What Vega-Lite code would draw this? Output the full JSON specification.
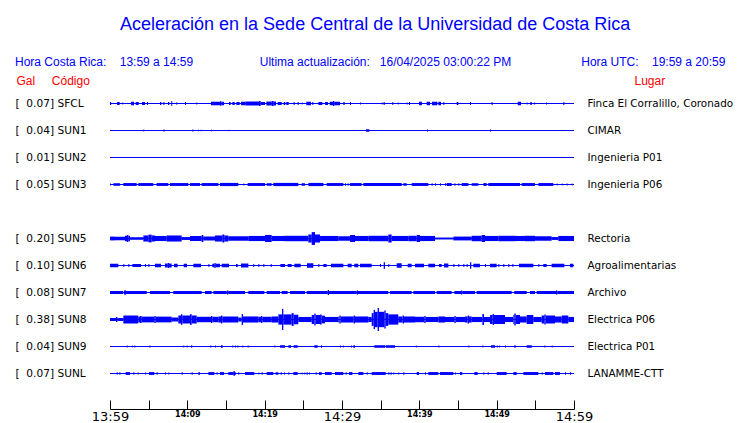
{
"$schema":"https://vega.github.io/schema/vega-lite/v6.json",
"width":464,"height":297,
"autosize":{"type":"none"},
"padding":{"left":110,"top":90,"right":166,"bottom":36},
"background":"white",
"config":{"view":{"stroke":null}},
"title":{"text":"\u200b\u00a0\u00a0\u00a0\u00a0\u00a0\u00a0\u00a0\u00a0\u00a0\u00a0\u00a0\u00a0\u00a0\u00a0\u00a0\u00a0\u00a0\u00a0\u00a0\u00a0\u00a0Aceleración en la Sede Central de la Universidad de Costa Rica",
"subtitle":"Hora Costa Rica:\u00a0\u00a0\u00a0\u00a013:59 a 14:59\u00a0\u00a0\u00a0\u00a0\u00a0\u00a0\u00a0\u00a0\u00a0\u00a0\u00a0\u00a0\u00a0\u00a0\u00a0\u00a0\u00a0\u00a0\u00a0\u00a0Ultima actualización:\u00a0\u00a0\u00a016/04/2025 03:00:22 PM\u00a0\u00a0\u00a0\u00a0\u00a0\u00a0\u00a0\u00a0\u00a0\u00a0\u00a0\u00a0\u00a0\u00a0\u00a0\u00a0\u00a0\u00a0\u00a0\u00a0\u00a0Hora UTC:\u00a0\u00a0\u00a0\u00a019:59 a 20:59",
"anchor":"start","frame":"group","dx":-95,"offset":6,"font":"Liberation Sans","fontSize":18,"fontWeight":"normal","color":"#0000ff",
"subtitleFont":"Liberation Sans","subtitleFontSize":12,"subtitleColor":"#0000ff","subtitlePadding":23},
"datasets":{
"stations":[{"s":"SFCL"},{"s":"SUN1"},{"s":"SUN2"},{"s":"SUN3"},{"s":"SUN5"},{"s":"SUN6"},{"s":"SUN7"},{"s":"SUN8"},{"s":"SUN9"},{"s":"SUNL"}],
"seg":[
{"s":"SFCL","t0":0,"t1":0.15,"a":0.045},{"s":"SFCL","t0":0.91,"t1":1.25,"a":0.047},{"s":"SFCL","t0":1.59,"t1":1.72,"a":0.031},{"s":"SFCL","t0":2.72,"t1":3.1,"a":0.055},{"s":"SFCL","t0":3.32,"t1":3.71,"a":0.047},{"s":"SFCL","t0":4.14,"t1":4.53,"a":0.047},{"s":"SFCL","t0":4.78,"t1":4.91,"a":0.047},{"s":"SFCL","t0":6.47,"t1":6.64,"a":0.047},{"s":"SFCL","t0":6.9,"t1":7.03,"a":0.047},{"s":"SFCL","t0":7.5,"t1":7.67,"a":0.047},{"s":"SFCL","t0":7.93,"t1":8.05,"a":0.078},{"s":"SFCL","t0":8.53,"t1":8.71,"a":0.031},{"s":"SFCL","t0":9.7,"t1":9.83,"a":0.047},{"s":"SFCL","t0":11.16,"t1":11.29,"a":0.031},{"s":"SFCL","t0":13.06,"t1":13.58,"a":0.055},{"s":"SFCL","t0":13.58,"t1":14.22,"a":0.055},{"s":"SFCL","t0":14.22,"t1":14.4,"a":0.07},{"s":"SFCL","t0":14.4,"t1":14.74,"a":0.055},{"s":"SFCL","t0":15.39,"t1":15.6,"a":0.047},{"s":"SFCL","t0":15.82,"t1":16.12,"a":0.047},{"s":"SFCL","t0":16.34,"t1":16.77,"a":0.047},{"s":"SFCL","t0":16.94,"t1":17.5,"a":0.055},{"s":"SFCL","t0":17.5,"t1":19.27,"a":0.062},{"s":"SFCL","t0":19.27,"t1":19.48,"a":0.078},{"s":"SFCL","t0":19.48,"t1":20.04,"a":0.047},{"s":"SFCL","t0":20.22,"t1":20.91,"a":0.062},{"s":"SFCL","t0":20.91,"t1":21.16,"a":0.078},{"s":"SFCL","t0":21.16,"t1":21.47,"a":0.062},{"s":"SFCL","t0":21.68,"t1":22.2,"a":0.047},{"s":"SFCL","t0":22.46,"t1":22.67,"a":0.047},{"s":"SFCL","t0":22.8,"t1":23.1,"a":0.047},{"s":"SFCL","t0":23.75,"t1":23.88,"a":0.047},{"s":"SFCL","t0":24.27,"t1":24.4,"a":0.047},{"s":"SFCL","t0":24.78,"t1":24.91,"a":0.031},{"s":"SFCL","t0":25.39,"t1":25.99,"a":0.055},{"s":"SFCL","t0":26.16,"t1":26.29,"a":0.047},{"s":"SFCL","t0":26.94,"t1":27.46,"a":0.047},{"s":"SFCL","t0":27.8,"t1":28.19,"a":0.047},{"s":"SFCL","t0":28.41,"t1":28.84,"a":0.055},{"s":"SFCL","t0":28.84,"t1":29.01,"a":0.078},{"s":"SFCL","t0":29.01,"t1":29.74,"a":0.055},{"s":"SFCL","t0":30.17,"t1":30.34,"a":0.047},{"s":"SFCL","t0":31.03,"t1":31.16,"a":0.047},{"s":"SFCL","t0":32.33,"t1":32.46,"a":0.031},{"s":"SFCL","t0":35.13,"t1":35.26,"a":0.031},{"s":"SFCL","t0":35.39,"t1":35.52,"a":0.047},{"s":"SFCL","t0":36.51,"t1":36.64,"a":0.047},{"s":"SFCL","t0":37.2,"t1":37.33,"a":0.031},{"s":"SFCL","t0":38.36,"t1":38.49,"a":0.031},{"s":"SFCL","t0":38.66,"t1":38.79,"a":0.047},{"s":"SFCL","t0":39.96,"t1":40.34,"a":0.055},{"s":"SFCL","t0":40.95,"t1":41.38,"a":0.055},{"s":"SFCL","t0":41.64,"t1":42.33,"a":0.055},{"s":"SFCL","t0":42.46,"t1":42.8,"a":0.055},{"s":"SFCL","t0":43.1,"t1":43.23,"a":0.047},{"s":"SFCL","t0":44.83,"t1":45.04,"a":0.047},{"s":"SFCL","t0":46.55,"t1":46.68,"a":0.047},{"s":"SFCL","t0":49.35,"t1":49.48,"a":0.047},{"s":"SFCL","t0":52.72,"t1":53.15,"a":0.055},{"s":"SFCL","t0":53.88,"t1":54.01,"a":0.031},{"s":"SFCL","t0":54.35,"t1":54.53,"a":0.047},{"s":"SFCL","t0":54.83,"t1":54.96,"a":0.031},{"s":"SFCL","t0":56.38,"t1":56.51,"a":0.031},{"s":"SFCL","t0":58.62,"t1":58.75,"a":0.047},
{"s":"SUN1","t0":4.31,"t1":4.44,"a":0.03},{"s":"SUN1","t0":6.9,"t1":7.07,"a":0.035},{"s":"SUN1","t0":10.65,"t1":10.78,"a":0.03},{"s":"SUN1","t0":11.38,"t1":11.51,"a":0.025},{"s":"SUN1","t0":11.72,"t1":11.85,"a":0.025},{"s":"SUN1","t0":13.06,"t1":13.19,"a":0.025},{"s":"SUN1","t0":15.3,"t1":15.43,"a":0.025},{"s":"SUN1","t0":33.1,"t1":33.53,"a":0.04},{"s":"SUN1","t0":40.99,"t1":41.12,"a":0.03},{"s":"SUN1","t0":49.14,"t1":49.27,"a":0.03},
{"s":"SUN3","t0":0,"t1":0.13,"a":0.03},{"s":"SUN3","t0":0.43,"t1":1.29,"a":0.04},{"s":"SUN3","t0":1.72,"t1":3.45,"a":0.045},{"s":"SUN3","t0":3.66,"t1":5.6,"a":0.045},{"s":"SUN3","t0":6.03,"t1":7.54,"a":0.045},{"s":"SUN3","t0":7.76,"t1":10.13,"a":0.045},{"s":"SUN3","t0":10.34,"t1":11.64,"a":0.045},{"s":"SUN3","t0":11.85,"t1":14.01,"a":0.045},{"s":"SUN3","t0":14.22,"t1":16.59,"a":0.05},{"s":"SUN3","t0":17.24,"t1":17.37,"a":0.03},{"s":"SUN3","t0":17.8,"t1":20.04,"a":0.045},{"s":"SUN3","t0":20.26,"t1":20.91,"a":0.04},{"s":"SUN3","t0":21.12,"t1":24.35,"a":0.05},{"s":"SUN3","t0":24.78,"t1":25.22,"a":0.04},{"s":"SUN3","t0":25.65,"t1":27.59,"a":0.05},{"s":"SUN3","t0":28.02,"t1":30.17,"a":0.045},{"s":"SUN3","t0":30.39,"t1":30.52,"a":0.04},{"s":"SUN3","t0":30.73,"t1":30.86,"a":0.04},{"s":"SUN3","t0":31.03,"t1":32.54,"a":0.045},{"s":"SUN3","t0":32.76,"t1":37.72,"a":0.05},{"s":"SUN3","t0":37.93,"t1":38.36,"a":0.04},{"s":"SUN3","t0":39.01,"t1":41.16,"a":0.045},{"s":"SUN3","t0":41.59,"t1":41.72,"a":0.04},{"s":"SUN3","t0":42.03,"t1":42.16,"a":0.04},{"s":"SUN3","t0":42.67,"t1":42.8,"a":0.04},{"s":"SUN3","t0":43.32,"t1":43.45,"a":0.04},{"s":"SUN3","t0":43.53,"t1":44.18,"a":0.045},{"s":"SUN3","t0":44.53,"t1":44.66,"a":0.04},{"s":"SUN3","t0":45.04,"t1":45.17,"a":0.04},{"s":"SUN3","t0":45.47,"t1":46.34,"a":0.045},{"s":"SUN3","t0":46.77,"t1":47.63,"a":0.04},{"s":"SUN3","t0":48.28,"t1":48.71,"a":0.045},{"s":"SUN3","t0":48.92,"t1":53.02,"a":0.05},{"s":"SUN3","t0":53.23,"t1":54.96,"a":0.045},{"s":"SUN3","t0":55.39,"t1":57.33,"a":0.045},{"s":"SUN3","t0":57.76,"t1":57.89,"a":0.03},{"s":"SUN3","t0":58.41,"t1":58.54,"a":0.03},{"s":"SUN3","t0":59.05,"t1":59.18,"a":0.03},{"s":"SUN3","t0":59.7,"t1":59.83,"a":0.03},
{"s":"SUN5","t0":0,"t1":0.65,"a":0.06},{"s":"SUN5","t0":0.65,"t1":1.94,"a":0.055},{"s":"SUN5","t0":1.94,"t1":2.2,"a":0.085},{"s":"SUN5","t0":2.2,"t1":2.37,"a":0.11},{"s":"SUN5","t0":2.37,"t1":2.59,"a":0.085},{"s":"SUN5","t0":2.59,"t1":4.31,"a":0.04},{"s":"SUN5","t0":4.31,"t1":4.96,"a":0.095},{"s":"SUN5","t0":4.96,"t1":5.39,"a":0.12},{"s":"SUN5","t0":5.39,"t1":5.82,"a":0.095},{"s":"SUN5","t0":5.82,"t1":7.33,"a":0.08},{"s":"SUN5","t0":7.33,"t1":9.27,"a":0.095},{"s":"SUN5","t0":9.27,"t1":10.34,"a":0.045},{"s":"SUN5","t0":10.34,"t1":11.85,"a":0.08},{"s":"SUN5","t0":11.85,"t1":12.07,"a":0.11},{"s":"SUN5","t0":12.07,"t1":13.58,"a":0.06},{"s":"SUN5","t0":13.58,"t1":14.53,"a":0.095},{"s":"SUN5","t0":14.53,"t1":14.78,"a":0.125},{"s":"SUN5","t0":14.78,"t1":15.3,"a":0.095},{"s":"SUN5","t0":15.3,"t1":17.89,"a":0.07},{"s":"SUN5","t0":17.89,"t1":20.04,"a":0.08},{"s":"SUN5","t0":20.04,"t1":20.91,"a":0.11},{"s":"SUN5","t0":20.91,"t1":22.63,"a":0.08},{"s":"SUN5","t0":22.63,"t1":25.65,"a":0.085},{"s":"SUN5","t0":25.65,"t1":26.08,"a":0.125},{"s":"SUN5","t0":26.08,"t1":26.51,"a":0.2},{"s":"SUN5","t0":26.51,"t1":27.16,"a":0.125},{"s":"SUN5","t0":27.16,"t1":29.53,"a":0.08},{"s":"SUN5","t0":29.53,"t1":31.03,"a":0.07},{"s":"SUN5","t0":31.03,"t1":31.68,"a":0.11},{"s":"SUN5","t0":31.68,"t1":33.41,"a":0.08},{"s":"SUN5","t0":33.41,"t1":35.99,"a":0.085},{"s":"SUN5","t0":35.99,"t1":36.42,"a":0.125},{"s":"SUN5","t0":36.42,"t1":38.58,"a":0.08},{"s":"SUN5","t0":38.58,"t1":39.66,"a":0.085},{"s":"SUN5","t0":39.66,"t1":40.09,"a":0.11},{"s":"SUN5","t0":40.09,"t1":42.03,"a":0.08},{"s":"SUN5","t0":42.03,"t1":44.4,"a":0.03},{"s":"SUN5","t0":44.4,"t1":46.77,"a":0.06},{"s":"SUN5","t0":46.77,"t1":48.06,"a":0.085},{"s":"SUN5","t0":48.06,"t1":48.49,"a":0.11},{"s":"SUN5","t0":48.49,"t1":50.22,"a":0.08},{"s":"SUN5","t0":50.22,"t1":52.37,"a":0.085},{"s":"SUN5","t0":52.37,"t1":53.66,"a":0.08},{"s":"SUN5","t0":53.66,"t1":54.96,"a":0.085},{"s":"SUN5","t0":54.96,"t1":57.11,"a":0.07},{"s":"SUN5","t0":57.11,"t1":57.97,"a":0.045},{"s":"SUN5","t0":57.97,"t1":60,"a":0.08},
{"s":"SUN6","t0":0,"t1":1.08,"a":0.055},{"s":"SUN6","t0":1.72,"t1":1.85,"a":0.047},{"s":"SUN6","t0":2.37,"t1":2.5,"a":0.047},{"s":"SUN6","t0":2.89,"t1":4.01,"a":0.047},{"s":"SUN6","t0":4.53,"t1":4.66,"a":0.047},{"s":"SUN6","t0":4.96,"t1":5.09,"a":0.047},{"s":"SUN6","t0":5.82,"t1":6.59,"a":0.055},{"s":"SUN6","t0":7.11,"t1":7.46,"a":0.062},{"s":"SUN6","t0":7.46,"t1":7.63,"a":0.078},{"s":"SUN6","t0":7.63,"t1":7.97,"a":0.062},{"s":"SUN6","t0":8.28,"t1":8.75,"a":0.055},{"s":"SUN6","t0":9.53,"t1":9.96,"a":0.055},{"s":"SUN6","t0":10.78,"t1":11.77,"a":0.055},{"s":"SUN6","t0":12.72,"t1":12.85,"a":0.047},{"s":"SUN6","t0":13.23,"t1":13.49,"a":0.055},{"s":"SUN6","t0":13.49,"t1":13.66,"a":0.078},{"s":"SUN6","t0":13.66,"t1":14.22,"a":0.055},{"s":"SUN6","t0":14.44,"t1":15.39,"a":0.055},{"s":"SUN6","t0":16.29,"t1":16.51,"a":0.047},{"s":"SUN6","t0":16.94,"t1":17.89,"a":0.062},{"s":"SUN6","t0":18.53,"t1":18.66,"a":0.047},{"s":"SUN6","t0":19.18,"t1":19.31,"a":0.047},{"s":"SUN6","t0":19.83,"t1":19.96,"a":0.047},{"s":"SUN6","t0":20.78,"t1":20.91,"a":0.047},{"s":"SUN6","t0":22.03,"t1":22.63,"a":0.047},{"s":"SUN6","t0":22.97,"t1":23.49,"a":0.047},{"s":"SUN6","t0":23.84,"t1":24.66,"a":0.055},{"s":"SUN6","t0":25.47,"t1":26.29,"a":0.07},{"s":"SUN6","t0":26.94,"t1":27.07,"a":0.047},{"s":"SUN6","t0":27.59,"t1":28.02,"a":0.047},{"s":"SUN6","t0":28.58,"t1":30.17,"a":0.055},{"s":"SUN6","t0":30.73,"t1":31.25,"a":0.055},{"s":"SUN6","t0":31.59,"t1":32.11,"a":0.055},{"s":"SUN6","t0":32.33,"t1":33.84,"a":0.055},{"s":"SUN6","t0":34.91,"t1":35.04,"a":0.047},{"s":"SUN6","t0":35.39,"t1":35.56,"a":0.1},{"s":"SUN6","t0":35.99,"t1":36.12,"a":0.047},{"s":"SUN6","t0":37.07,"t1":37.72,"a":0.07},{"s":"SUN6","t0":38.49,"t1":39.01,"a":0.055},{"s":"SUN6","t0":39.44,"t1":40.6,"a":0.055},{"s":"SUN6","t0":41.16,"t1":42.03,"a":0.055},{"s":"SUN6","t0":42.54,"t1":42.89,"a":0.047},{"s":"SUN6","t0":43.19,"t1":43.75,"a":0.062},{"s":"SUN6","t0":44.4,"t1":44.53,"a":0.047},{"s":"SUN6","t0":45.04,"t1":45.17,"a":0.047},{"s":"SUN6","t0":45.69,"t1":45.82,"a":0.047},{"s":"SUN6","t0":46.12,"t1":46.25,"a":0.047},{"s":"SUN6","t0":46.55,"t1":46.72,"a":0.1},{"s":"SUN6","t0":46.98,"t1":47.84,"a":0.055},{"s":"SUN6","t0":48.49,"t1":48.62,"a":0.047},{"s":"SUN6","t0":49.14,"t1":50,"a":0.055},{"s":"SUN6","t0":50.22,"t1":50.35,"a":0.047},{"s":"SUN6","t0":50.86,"t1":50.99,"a":0.047},{"s":"SUN6","t0":51.51,"t1":51.64,"a":0.047},{"s":"SUN6","t0":52.03,"t1":52.16,"a":0.047},{"s":"SUN6","t0":52.89,"t1":54.74,"a":0.055},{"s":"SUN6","t0":55.39,"t1":55.52,"a":0.047},{"s":"SUN6","t0":56.03,"t1":56.47,"a":0.047},{"s":"SUN6","t0":57.11,"t1":58.75,"a":0.055},{"s":"SUN6","t0":59.48,"t1":59.91,"a":0.055},
{"s":"SUN7","t0":0,"t1":1.72,"a":0.047},{"s":"SUN7","t0":1.81,"t1":2.07,"a":0.065},{"s":"SUN7","t0":2.07,"t1":4.74,"a":0.047},{"s":"SUN7","t0":5.17,"t1":7.76,"a":0.047},{"s":"SUN7","t0":8.19,"t1":11.85,"a":0.047},{"s":"SUN7","t0":12.28,"t1":13.15,"a":0.047},{"s":"SUN7","t0":13.36,"t1":15.09,"a":0.047},{"s":"SUN7","t0":15.13,"t1":15.3,"a":0.065},{"s":"SUN7","t0":15.3,"t1":17.46,"a":0.047},{"s":"SUN7","t0":17.89,"t1":19.96,"a":0.047},{"s":"SUN7","t0":20.26,"t1":21.98,"a":0.047},{"s":"SUN7","t0":22.2,"t1":22.97,"a":0.047},{"s":"SUN7","t0":23.28,"t1":25.22,"a":0.047},{"s":"SUN7","t0":25.43,"t1":28.15,"a":0.047},{"s":"SUN7","t0":28.15,"t1":28.32,"a":0.08},{"s":"SUN7","t0":28.32,"t1":31.9,"a":0.047},{"s":"SUN7","t0":31.9,"t1":32.07,"a":0.065},{"s":"SUN7","t0":32.07,"t1":35.99,"a":0.047},{"s":"SUN7","t0":36.21,"t1":39.01,"a":0.047},{"s":"SUN7","t0":39.22,"t1":42.03,"a":0.047},{"s":"SUN7","t0":42.24,"t1":44.18,"a":0.047},{"s":"SUN7","t0":44.53,"t1":45.39,"a":0.047},{"s":"SUN7","t0":45.39,"t1":45.56,"a":0.065},{"s":"SUN7","t0":45.56,"t1":47.2,"a":0.047},{"s":"SUN7","t0":47.41,"t1":51.94,"a":0.047},{"s":"SUN7","t0":52.28,"t1":53.88,"a":0.047},{"s":"SUN7","t0":54.31,"t1":54.96,"a":0.047},{"s":"SUN7","t0":55.17,"t1":57.67,"a":0.047},{"s":"SUN7","t0":57.67,"t1":57.84,"a":0.065},{"s":"SUN7","t0":57.84,"t1":60,"a":0.047},
{"s":"SUN8","t0":0,"t1":0.78,"a":0.047},{"s":"SUN8","t0":0.78,"t1":0.95,"a":0.078},{"s":"SUN8","t0":0.95,"t1":1.72,"a":0.047},{"s":"SUN8","t0":1.72,"t1":3.66,"a":0.125},{"s":"SUN8","t0":3.66,"t1":3.88,"a":0.09},{"s":"SUN8","t0":3.88,"t1":4.09,"a":0.11},{"s":"SUN8","t0":4.09,"t1":5.73,"a":0.09},{"s":"SUN8","t0":5.73,"t1":5.91,"a":0.11},{"s":"SUN8","t0":5.91,"t1":7.97,"a":0.09},{"s":"SUN8","t0":7.97,"t1":8.84,"a":0.062},{"s":"SUN8","t0":8.84,"t1":9.18,"a":0.125},{"s":"SUN8","t0":9.18,"t1":9.35,"a":0.167},{"s":"SUN8","t0":9.35,"t1":10.34,"a":0.125},{"s":"SUN8","t0":10.34,"t1":10.56,"a":0.167},{"s":"SUN8","t0":10.56,"t1":11.21,"a":0.125},{"s":"SUN8","t0":11.21,"t1":13.06,"a":0.085},{"s":"SUN8","t0":13.06,"t1":13.23,"a":0.11},{"s":"SUN8","t0":13.23,"t1":14.01,"a":0.085},{"s":"SUN8","t0":14.01,"t1":14.35,"a":0.095},{"s":"SUN8","t0":14.35,"t1":14.53,"a":0.125},{"s":"SUN8","t0":14.53,"t1":16.59,"a":0.095},{"s":"SUN8","t0":16.59,"t1":17.03,"a":0.062},{"s":"SUN8","t0":17.03,"t1":17.2,"a":0.17},{"s":"SUN8","t0":17.2,"t1":19.18,"a":0.095},{"s":"SUN8","t0":19.18,"t1":19.53,"a":0.085},{"s":"SUN8","t0":19.53,"t1":19.7,"a":0.11},{"s":"SUN8","t0":19.7,"t1":20.91,"a":0.085},{"s":"SUN8","t0":20.91,"t1":21.77,"a":0.095},{"s":"SUN8","t0":21.77,"t1":22.24,"a":0.16},{"s":"SUN8","t0":22.24,"t1":22.41,"a":0.33},{"s":"SUN8","t0":22.41,"t1":23.49,"a":0.16},{"s":"SUN8","t0":23.49,"t1":23.75,"a":0.2},{"s":"SUN8","t0":23.75,"t1":24.35,"a":0.15},{"s":"SUN8","t0":24.35,"t1":26.08,"a":0.08},{"s":"SUN8","t0":26.08,"t1":26.42,"a":0.14},{"s":"SUN8","t0":26.42,"t1":26.59,"a":0.19},{"s":"SUN8","t0":26.59,"t1":27.16,"a":0.14},{"s":"SUN8","t0":27.16,"t1":27.37,"a":0.16},{"s":"SUN8","t0":27.37,"t1":27.8,"a":0.12},{"s":"SUN8","t0":27.8,"t1":29.53,"a":0.08},{"s":"SUN8","t0":29.53,"t1":29.66,"a":0.095},{"s":"SUN8","t0":29.66,"t1":29.83,"a":0.125},{"s":"SUN8","t0":29.83,"t1":31.51,"a":0.095},{"s":"SUN8","t0":31.51,"t1":31.68,"a":0.125},{"s":"SUN8","t0":31.68,"t1":33.41,"a":0.095},{"s":"SUN8","t0":33.41,"t1":33.84,"a":0.08},{"s":"SUN8","t0":33.84,"t1":34.09,"a":0.2},{"s":"SUN8","t0":34.09,"t1":34.27,"a":0.3},{"s":"SUN8","t0":34.27,"t1":34.61,"a":0.24},{"s":"SUN8","t0":34.61,"t1":34.78,"a":0.36},{"s":"SUN8","t0":34.78,"t1":35.47,"a":0.24},{"s":"SUN8","t0":35.47,"t1":35.65,"a":0.28},{"s":"SUN8","t0":35.65,"t1":35.99,"a":0.2},{"s":"SUN8","t0":35.99,"t1":37.28,"a":0.16},{"s":"SUN8","t0":37.28,"t1":37.84,"a":0.095},{"s":"SUN8","t0":37.84,"t1":38.02,"a":0.125},{"s":"SUN8","t0":38.02,"t1":39.44,"a":0.095},{"s":"SUN8","t0":39.44,"t1":40.65,"a":0.085},{"s":"SUN8","t0":40.65,"t1":40.82,"a":0.11},{"s":"SUN8","t0":40.82,"t1":42.46,"a":0.08},{"s":"SUN8","t0":42.46,"t1":43.32,"a":0.095},{"s":"SUN8","t0":43.32,"t1":44.53,"a":0.08},{"s":"SUN8","t0":44.53,"t1":44.7,"a":0.11},{"s":"SUN8","t0":44.7,"t1":45.91,"a":0.08},{"s":"SUN8","t0":45.91,"t1":46.25,"a":0.095},{"s":"SUN8","t0":46.25,"t1":46.42,"a":0.125},{"s":"SUN8","t0":46.42,"t1":46.77,"a":0.095},{"s":"SUN8","t0":46.77,"t1":48.15,"a":0.08},{"s":"SUN8","t0":48.15,"t1":48.36,"a":0.17},{"s":"SUN8","t0":48.36,"t1":49.14,"a":0.08},{"s":"SUN8","t0":49.14,"t1":49.48,"a":0.14},{"s":"SUN8","t0":49.48,"t1":49.66,"a":0.17},{"s":"SUN8","t0":49.66,"t1":51.08,"a":0.14},{"s":"SUN8","t0":51.08,"t1":52.16,"a":0.08},{"s":"SUN8","t0":52.16,"t1":52.28,"a":0.14},{"s":"SUN8","t0":52.28,"t1":52.46,"a":0.19},{"s":"SUN8","t0":52.46,"t1":53.02,"a":0.14},{"s":"SUN8","t0":53.02,"t1":53.88,"a":0.095},{"s":"SUN8","t0":53.88,"t1":54.74,"a":0.14},{"s":"SUN8","t0":54.74,"t1":55.82,"a":0.08},{"s":"SUN8","t0":55.82,"t1":56.16,"a":0.125},{"s":"SUN8","t0":56.16,"t1":56.34,"a":0.16},{"s":"SUN8","t0":56.34,"t1":57.54,"a":0.125},{"s":"SUN8","t0":57.54,"t1":58.41,"a":0.095},{"s":"SUN8","t0":58.41,"t1":59.27,"a":0.125},{"s":"SUN8","t0":59.27,"t1":60,"a":0.08},
{"s":"SUN9","t0":2.16,"t1":2.29,"a":0.035},{"s":"SUN9","t0":2.8,"t1":2.93,"a":0.03},{"s":"SUN9","t0":3.15,"t1":3.28,"a":0.035},{"s":"SUN9","t0":5.09,"t1":5.22,"a":0.03},{"s":"SUN9","t0":9.48,"t1":9.61,"a":0.035},{"s":"SUN9","t0":9.91,"t1":10.04,"a":0.03},{"s":"SUN9","t0":10.47,"t1":10.65,"a":0.035},{"s":"SUN9","t0":12.97,"t1":13.1,"a":0.035},{"s":"SUN9","t0":13.58,"t1":13.71,"a":0.03},{"s":"SUN9","t0":14.35,"t1":14.57,"a":0.04},{"s":"SUN9","t0":15.82,"t1":15.95,"a":0.035},{"s":"SUN9","t0":16.16,"t1":16.29,"a":0.03},{"s":"SUN9","t0":16.47,"t1":16.6,"a":0.035},{"s":"SUN9","t0":17.11,"t1":17.24,"a":0.03},{"s":"SUN9","t0":17.8,"t1":17.93,"a":0.03},{"s":"SUN9","t0":21.25,"t1":21.38,"a":0.03},{"s":"SUN9","t0":21.98,"t1":22.63,"a":0.04},{"s":"SUN9","t0":23.06,"t1":23.41,"a":0.04},{"s":"SUN9","t0":23.75,"t1":24.27,"a":0.04},{"s":"SUN9","t0":26.42,"t1":26.85,"a":0.04},{"s":"SUN9","t0":27.28,"t1":27.41,"a":0.04},{"s":"SUN9","t0":29.74,"t1":29.87,"a":0.035},{"s":"SUN9","t0":30.09,"t1":30.22,"a":0.03},{"s":"SUN9","t0":31.16,"t1":31.29,"a":0.03},{"s":"SUN9","t0":31.47,"t1":31.68,"a":0.04},{"s":"SUN9","t0":34.18,"t1":35.56,"a":0.04},{"s":"SUN9","t0":35.65,"t1":36.85,"a":0.04},{"s":"SUN9","t0":39.53,"t1":39.66,"a":0.03},{"s":"SUN9","t0":42.46,"t1":42.59,"a":0.03},{"s":"SUN9","t0":46.34,"t1":46.47,"a":0.03},{"s":"SUN9","t0":48.15,"t1":48.28,"a":0.035},{"s":"SUN9","t0":49.27,"t1":49.78,"a":0.04},{"s":"SUN9","t0":50,"t1":50.13,"a":0.035},{"s":"SUN9","t0":50.3,"t1":50.43,"a":0.03},{"s":"SUN9","t0":51.08,"t1":51.21,"a":0.035},{"s":"SUN9","t0":52.28,"t1":52.46,"a":0.04},{"s":"SUN9","t0":53.88,"t1":54.53,"a":0.04},{"s":"SUN9","t0":56.16,"t1":56.29,"a":0.035},{"s":"SUN9","t0":57.11,"t1":57.24,"a":0.03},
{"s":"SUNL","t0":0.86,"t1":0.99,"a":0.04},{"s":"SUNL","t0":1.21,"t1":1.34,"a":0.04},{"s":"SUNL","t0":2.03,"t1":2.59,"a":0.045},{"s":"SUNL","t0":3.02,"t1":3.15,"a":0.04},{"s":"SUNL","t0":3.58,"t1":3.71,"a":0.03},{"s":"SUNL","t0":4.53,"t1":4.66,"a":0.035},{"s":"SUNL","t0":5.04,"t1":5.73,"a":0.045},{"s":"SUNL","t0":6.03,"t1":6.16,"a":0.04},{"s":"SUNL","t0":7.11,"t1":7.24,"a":0.035},{"s":"SUNL","t0":7.54,"t1":7.67,"a":0.035},{"s":"SUNL","t0":9.27,"t1":9.4,"a":0.04},{"s":"SUNL","t0":10.56,"t1":10.69,"a":0.04},{"s":"SUNL","t0":11.42,"t1":11.64,"a":0.04},{"s":"SUNL","t0":12.72,"t1":13.49,"a":0.045},{"s":"SUNL","t0":13.79,"t1":13.92,"a":0.04},{"s":"SUNL","t0":14.22,"t1":14.74,"a":0.045},{"s":"SUNL","t0":15.3,"t1":15.95,"a":0.045},{"s":"SUNL","t0":15.95,"t1":16.16,"a":0.07},{"s":"SUNL","t0":16.16,"t1":16.25,"a":0.045},{"s":"SUNL","t0":16.59,"t1":16.72,"a":0.04},{"s":"SUNL","t0":17.46,"t1":18.66,"a":0.045},{"s":"SUNL","t0":19.18,"t1":19.31,"a":0.035},{"s":"SUNL","t0":19.61,"t1":19.74,"a":0.04},{"s":"SUNL","t0":20.26,"t1":21.12,"a":0.045},{"s":"SUNL","t0":21.42,"t1":21.77,"a":0.04},{"s":"SUNL","t0":22.07,"t1":22.2,"a":0.04},{"s":"SUNL","t0":22.5,"t1":22.63,"a":0.035},{"s":"SUNL","t0":23.06,"t1":23.19,"a":0.04},{"s":"SUNL","t0":23.71,"t1":24.27,"a":0.045},{"s":"SUNL","t0":24.78,"t1":24.91,"a":0.035},{"s":"SUNL","t0":25.13,"t1":25.26,"a":0.035},{"s":"SUNL","t0":25.43,"t1":25.56,"a":0.04},{"s":"SUNL","t0":25.73,"t1":25.86,"a":0.035},{"s":"SUNL","t0":26.59,"t1":26.72,"a":0.04},{"s":"SUNL","t0":27.03,"t1":27.37,"a":0.045},{"s":"SUNL","t0":27.8,"t1":28.66,"a":0.045},{"s":"SUNL","t0":29.09,"t1":30.17,"a":0.045},{"s":"SUNL","t0":30.47,"t1":30.6,"a":0.04},{"s":"SUNL","t0":30.91,"t1":31.34,"a":0.045},{"s":"SUNL","t0":32.11,"t1":32.76,"a":0.045},{"s":"SUNL","t0":33.19,"t1":33.32,"a":0.04},{"s":"SUNL","t0":33.84,"t1":35.65,"a":0.045},{"s":"SUNL","t0":35.99,"t1":36.12,"a":0.04},{"s":"SUNL","t0":36.29,"t1":36.42,"a":0.04},{"s":"SUNL","t0":36.64,"t1":36.77,"a":0.035},{"s":"SUNL","t0":37.28,"t1":37.41,"a":0.035},{"s":"SUNL","t0":37.93,"t1":38.06,"a":0.04},{"s":"SUNL","t0":39.66,"t1":39.96,"a":0.045},{"s":"SUNL","t0":40.73,"t1":40.86,"a":0.04},{"s":"SUNL","t0":41.16,"t1":42.46,"a":0.045},{"s":"SUNL","t0":42.67,"t1":44.4,"a":0.045},{"s":"SUNL","t0":44.61,"t1":44.74,"a":0.035},{"s":"SUNL","t0":45.26,"t1":45.56,"a":0.045},{"s":"SUNL","t0":47.11,"t1":47.54,"a":0.045},{"s":"SUNL","t0":48.28,"t1":48.41,"a":0.04},{"s":"SUNL","t0":48.84,"t1":48.97,"a":0.04},{"s":"SUNL","t0":50,"t1":51.29,"a":0.045},{"s":"SUNL","t0":52.16,"t1":52.59,"a":0.045},{"s":"SUNL","t0":53.45,"t1":55.39,"a":0.045},{"s":"SUNL","t0":55.82,"t1":55.95,"a":0.04},{"s":"SUNL","t0":56.25,"t1":57.33,"a":0.045},{"s":"SUNL","t0":57.54,"t1":58.19,"a":0.045},{"s":"SUNL","t0":58.84,"t1":58.97,"a":0.04},{"s":"SUNL","t0":59.48,"t1":59.61,"a":0.04}
]},
"layer":[
{"data":{"name":"stations"},
"mark":{"type":"rule","color":"#0000ff","strokeWidth":1},
"encoding":{
"x":{"datum":0,"type":"quantitative","scale":{"domain":[0,60],"nice":false,"zero":false},
"axis":{"orient":"bottom","offset":22,"values":[0,5,10,15,20,25,30,35,40,45,50,55,60],"tickSize":-9,"tickColor":"#000000","tickWidth":1,"domainColor":"#000000","domainWidth":1,"grid":false,"title":null,
"labelExpr":"datum.value % 10 == 0 ? ['13:59','14:09','14:19','14:29','14:39','14:49','14:59'][datum.value/10] : ''",
"labelFont":"DejaVu Sans","labelFontSize":{"condition":{"test":"datum.value % 30 == 0","value":13},"value":8},
"labelFontWeight":{"condition":{"test":"datum.value % 30 == 0","value":"normal"},"value":"bold"},
"labelColor":"#000000","labelFlush":false,"labelOverlap":false,"labelBound":false,"labelPadding":10,"labelBaseline":"top"}},
"x2":{"datum":60},
"y":{"field":"s","type":"nominal",
"scale":{"type":"band","domain":["SFCL","SUN1","SUN2","SUN3","SUN4","SUN5","SUN6","SUN7","SUN8","SUN9","SUNL"],"paddingInner":0,"paddingOuter":0},
"axis":{"orient":"left","domain":false,"ticks":false,"tickSize":0,"grid":false,"labelAlign":"left","labelBaseline":"middle","labelPadding":95,"labelFont":"DejaVu Sans","labelFontSize":10.6,"labelColor":"#000000",
"labelExpr":"datum.value=='SFCL'?'[\u00a0\u00a00.07] SFCL':datum.value=='SUN1'?'[\u00a0\u00a00.04] SUN1':datum.value=='SUN2'?'[\u00a0\u00a00.01] SUN2':datum.value=='SUN3'?'[\u00a0\u00a00.05] SUN3':datum.value=='SUN5'?'[\u00a0\u00a00.20] SUN5':datum.value=='SUN6'?'[\u00a0\u00a00.10] SUN6':datum.value=='SUN7'?'[\u00a0\u00a00.08] SUN7':datum.value=='SUN8'?'[\u00a0\u00a00.38] SUN8':datum.value=='SUN9'?'[\u00a0\u00a00.04] SUN9':datum.value=='SUNL'?'[\u00a0\u00a00.07] SUNL':''",
"title":"Gal\u00a0\u00a0\u00a0\u00a0\u00a0Código","titleAngle":0,"titleX":-94,"titleY":-6,"titleAlign":"left","titleBaseline":"alphabetic","titleFont":"Liberation Sans","titleFontSize":12,"titleFontWeight":"normal","titleColor":"#ff0000"}}
}},
{"data":{"name":"seg"},
"mark":{"type":"bar","color":"#0000ff"},
"encoding":{
"x":{"field":"t0","type":"quantitative",
"axis":{"orient":"bottom","offset":22,"values":[0,5,10,15,20,25,30,35,40,45,50,55,60],"tickSize":-9,"tickColor":"#000000","tickWidth":1,"domainColor":"#000000","domainWidth":1,"grid":false,"title":null,
"labelExpr":"datum.value % 10 == 0 ? ['13:59','14:09','14:19','14:29','14:39','14:49','14:59'][datum.value/10] : ''",
"labelFont":"DejaVu Sans","labelFontSize":{"condition":{"test":"datum.value % 30 == 0","value":13},"value":8},
"labelFontWeight":{"condition":{"test":"datum.value % 30 == 0","value":"normal"},"value":"bold"},
"labelColor":"#000000","labelFlush":false,"labelOverlap":false,"labelBound":false,"labelPadding":10,"labelBaseline":"top"}},
"x2":{"field":"t1"},
"y":{"field":"s","type":"nominal",
"scale":{"type":"band","domain":["SFCL","SUN1","SUN2","SUN3","SUN4","SUN5","SUN6","SUN7","SUN8","SUN9","SUNL"],"paddingInner":0,"paddingOuter":0},
"axis":{"orient":"right","domain":false,"ticks":false,"tickSize":0,"grid":false,"labelAlign":"left","labelBaseline":"middle","labelPadding":13,"labelFont":"DejaVu Sans","labelFontSize":10.4,"labelColor":"#000000",
"labelExpr":"datum.value=='SFCL'?'Finca El Corralillo, Coronado':datum.value=='SUN1'?'CIMAR':datum.value=='SUN2'?'Ingenieria P01':datum.value=='SUN3'?'Ingenieria P06':datum.value=='SUN5'?'Rectoria':datum.value=='SUN6'?'Agroalimentarias':datum.value=='SUN7'?'Archivo':datum.value=='SUN8'?'Electrica P06':datum.value=='SUN9'?'Electrica P01':datum.value=='SUNL'?'LANAMME-CTT':''",
"title":"Lugar","titleAngle":0,"titleX":60,"titleY":-6,"titleAlign":"left","titleBaseline":"alphabetic","titleFont":"Liberation Sans","titleFontSize":12,"titleFontWeight":"normal","titleColor":"#ff0000"}},
"size":{"field":"a","type":"quantitative","scale":{"domain":[0,0.4],"range":[0,25.6]},"legend":null}
}}
],
"resolve":{"axis":{"y":"independent"}}
}
